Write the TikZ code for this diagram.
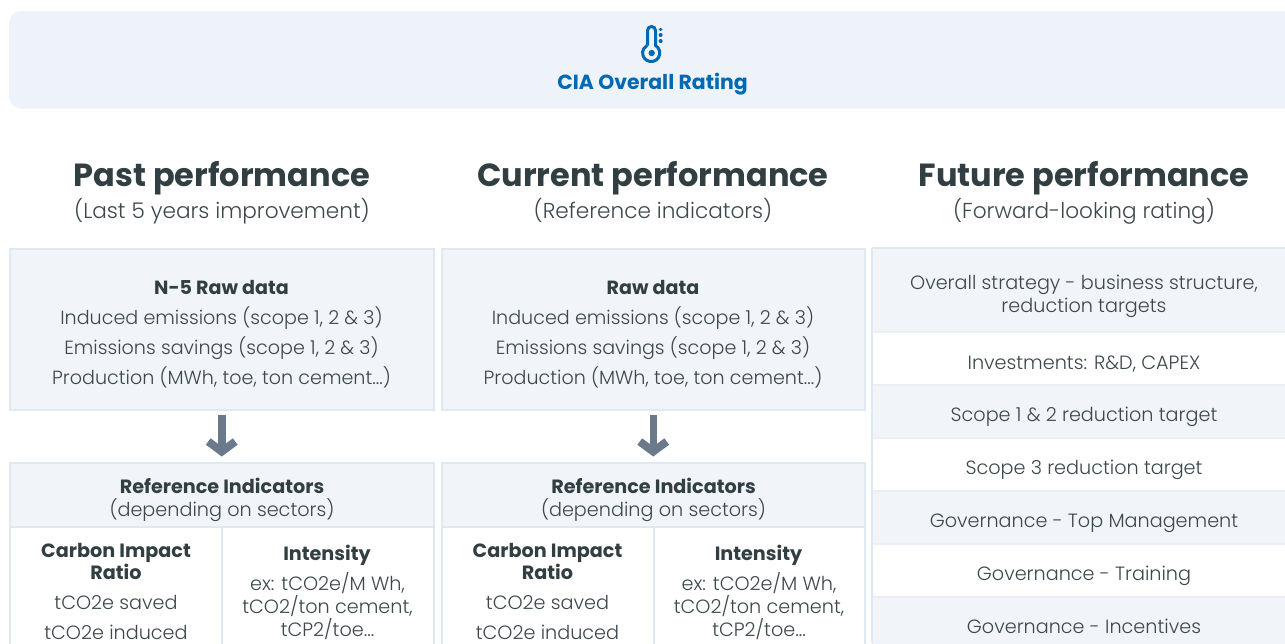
\documentclass[tikz,border=0pt]{standalone}
\usepackage{fontspec}
\setmainfont{Poppins}[UprightFont=* Light,BoldFont=* Bold]
\usetikzlibrary{arrows.meta}
\definecolor{band}{HTML}{EEF3FA}
\definecolor{cell}{HTML}{F1F4F9}
\definecolor{edge}{HTML}{DFE9F2}
\definecolor{rowline}{HTML}{E9EFF5}
\definecolor{blue}{HTML}{0069B4}
\definecolor{ink}{HTML}{323F42}
\definecolor{soft}{HTML}{3C484C}
\definecolor{arrowc}{HTML}{6A7A8C}
\tikzset{
  x=1pt,y=-1pt,
  boxed/.style={draw=edge,line width=2pt,anchor=north west,inner sep=0pt,outer sep=0pt},
  filled/.style={boxed,fill=cell},
  plainb/.style={boxed,fill=white},
  row/.style={draw=rowline,line width=1.5pt,anchor=north west,inner sep=0pt,outer sep=0pt,minimum width=430pt},
  rowf/.style={row,fill=cell},
  roww/.style={row,fill=white},
  txt/.style={align=center,text=soft,inner sep=0pt,font=\fontsize{19.2}{23}\selectfont},
  boldtxt/.style={txt,text=ink,font=\fontsize{19.2}{22}\bfseries\selectfont},
  bodytxt/.style={align=center,text=soft,inner sep=0pt,font=\fontsize{19.1}{30}\selectfont},
  head/.style={align=center,text=ink,inner sep=0pt,font=\fontsize{32}{38}\bfseries\selectfont},
  subhead/.style={align=center,text=soft,inner sep=0pt,font=\fontsize{21.6}{26}\selectfont},
  cut/.style={-{Straight Barb[length=10pt,width=27pt,line width=8pt]},arrowc,line width=7.5pt},
}
\begin{document}
\begin{tikzpicture}
\useasboundingbox (0,0) rectangle (1285,643);
\clip (0,0) rectangle (1285,643);
\fill[white] (0,0) rectangle (1285,643);
\fill[band,rounded corners=12pt] (9,11) rectangle (1310,108.5);
% thermometer icon
\begin{scope}[blue,line width=3pt]
\draw (647.5,45.5) -- (647.5,30.5) arc[start angle=180,end angle=0,x radius=4,y radius=-4] -- (655.5,45.5)
  arc[start angle=-60,end angle=240,radius=8.6] ;
\fill (651.7,53) circle (3.2);
\draw[line width=3.4pt,line cap=round] (660.3,29.5) -- (660.9,29.5) (660.3,35) -- (660.9,35) (660.3,41) -- (660.9,41);
\end{scope}
\node[text=blue,inner sep=0pt,font=\fontsize{20.4}{24}\bfseries\selectfont] (title) at (652.5,84) {CIA Overall Rating};
% headings
\node[head] (h1) at (222,178) {Past performance};
\node[subhead] (s1) at (222,211) {(Last 5 years improvement)};
\node[head] (h2) at (653,178) {Current performance};
\node[subhead] (s2) at (653,210) {(Reference indicators)};
\node[head] (h3) at (1084,178) {Future performance};
\node[subhead] (s3) at (1084,211) {(Forward-looking rating)};
% column 1
\node[filled,minimum width=423.5pt,minimum height=161pt] (raw1) at (10,248.5) {};
\node[bodytxt] (rawt1) at (221.5,334) {\textcolor{ink}{\textbf{N-5 Raw data}}\\Induced emissions (scope 1, 2 \& 3)\\Emissions savings (scope 1, 2 \& 3)\\Production (MWh, toe, ton cement...)};
\node[filled,minimum width=423.5pt,minimum height=65pt] (ref1) at (10,462.5) {};
\node[txt] (reft1) at (222,499.5) {\textcolor{ink}{\textbf{Reference Indicators}}\\(depending on sectors)};
\node[plainb,minimum width=212pt,minimum height=140pt] (cir1) at (10,527) {};
\node[plainb,minimum width=211.5pt,minimum height=140pt] (int1) at (222,527) {};
\node[boldtxt] (cirh1) at (116,561.2) {Carbon Impact\\Ratio};
\node[txt] (ciro1) at (116,602.5) {tCO2e saved};
\node[txt] (ciru1) at (116,632.5) {tCO2e induced};
\node[boldtxt] (inth1) at (327,555) {Intensity};
\node[txt] (intt1) at (327.5,606.5) {ex: tCO2e/M Wh,\\tCO2/ton cement,\\tCP2/toe...};
\draw[cut,shorten <=5pt,shorten >=6pt] (raw1.south) -- (ref1.north);
% column 2
\node[filled,minimum width=423.5pt,minimum height=161pt] (raw2) at (441.5,248.5) {};
\node[bodytxt] (rawt2) at (653,334) {\textcolor{ink}{\textbf{Raw data}}\\Induced emissions (scope 1, 2 \& 3)\\Emissions savings (scope 1, 2 \& 3)\\Production (MWh, toe, ton cement...)};
\node[filled,minimum width=423.5pt,minimum height=65pt] (ref2) at (441.5,462.5) {};
\node[txt] (reft2) at (653.5,499.5) {\textcolor{ink}{\textbf{Reference Indicators}}\\(depending on sectors)};
\node[plainb,minimum width=212pt,minimum height=140pt] (cir2) at (441.5,527) {};
\node[plainb,minimum width=211.5pt,minimum height=140pt] (int2) at (653.5,527) {};
\node[boldtxt] (cirh2) at (547.5,561.2) {Carbon Impact\\Ratio};
\node[txt] (ciro2) at (547.5,602.5) {tCO2e saved};
\node[txt] (ciru2) at (547.5,632.5) {tCO2e induced};
\node[boldtxt] (inth2) at (758.5,555) {Intensity};
\node[txt] (intt2) at (759,606.5) {ex: tCO2e/M Wh,\\tCO2/ton cement,\\tCP2/toe...};
\draw[cut,shorten <=5pt,shorten >=6pt] (raw2.south) -- (ref2.north);
% column 3
\node[rowf,minimum height=84pt] (r1) at (872.5,248.5) {};
\node[roww,minimum height=53pt] (r2) at (872.5,332) {};
\node[rowf,minimum height=53pt] (r3) at (872.5,385) {};
\node[roww,minimum height=53pt] (r4) at (872.5,438) {};
\node[rowf,minimum height=53pt] (r5) at (872.5,491) {};
\node[roww,minimum height=53pt] (r6) at (872.5,544) {};
\node[rowf,minimum height=60pt] (r7) at (872.5,597) {};
\node[txt] (rt1) at (1084,296) {Overall strategy - business structure,\\reduction targets};
\node[txt] (rt2) at (1084,364) {Investments: R\&D, CAPEX};
\node[txt] (rt3) at (1084,417) {Scope 1 \& 2 reduction target};
\node[txt] (rt4) at (1084,470) {Scope 3 reduction target};
\node[txt] (rt5) at (1084,523) {Governance - Top Management};
\node[txt] (rt6) at (1084,576) {Governance - Training};
\node[txt] (rt7) at (1084,626) {Governance - Incentives};
\draw[edge,line width=2pt] (872,248) -- (872,643);
\draw[edge,line width=2pt] (872,248) -- (1285,248);
\end{tikzpicture}
\end{document}
